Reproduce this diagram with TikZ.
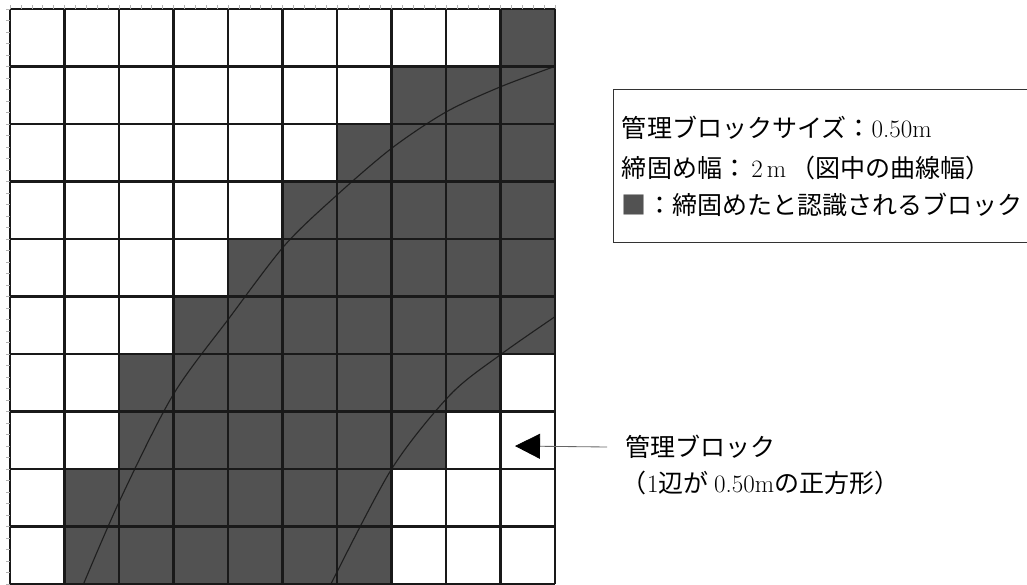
\documentclass[tikz,border=0pt]{standalone}
\usepackage{fontspec}
\newfontfamily\cjk{Noto Sans CJK JP}
\newcommand\latn[1]{{\rmfamily #1}}
\usetikzlibrary{arrows.meta}

\tikzset{
  block/.style={fill=black!68},
  gridline/.style={line width=2.1pt, draw=black!90},
  curve/.style={line width=0.8pt, draw=black!88},
  ruletick/.style={line width=0.3pt, draw=black!30},
  legendbox/.style={line width=0.6pt, draw=black!80},
  pointer/.style={line width=0.6pt, draw=black!60, -{Triangle[length=0.625cm, width=0.625cm, color=black, fill=black]}},
  label/.style={anchor=west, font=\fontsize{17.8}{20}\selectfont\cjk}
}

\begin{document}
\begin{tikzpicture}[x=0.025cm, y=-0.025cm]

\useasboundingbox (0,0) rectangle (1027,585);

% Compacted blocks (row / first column / last column)
\foreach \r/\a/\b in {0/9/9, 1/7/9, 2/6/9, 3/5/9, 4/4/9, 5/3/9, 6/2/8, 7/2/7, 8/1/6, 9/1/6}
  \foreach \c in {\a,...,\b}
    \fill[block] ({10+\c*54.5},{9+\r*57.5}) rectangle ++(54.5,57.5);

% Roller track edges
\begin{scope}
  \clip (10,9) rectangle (555,584);
  \draw[curve] plot[smooth] coordinates {(81,590) (120,500) (173,395) (230,317) (285,245) (337,195) (392,148) (446,112) (500,87) (556,66)};
  \draw[curve] plot[smooth] coordinates {(328,590) (391,470) (450,395) (500,355) (556,316)};
\end{scope}

% Grid
\foreach \i in {0,...,10} {
  \draw[gridline] ({10+\i*54.5},9) -- ({10+\i*54.5},584);
  \draw[gridline] (10,{9+\i*57.5}) -- (555,{9+\i*57.5});
}

% Ruler ticks
\foreach \k in {0,...,50} {
  \draw[ruletick] ({10+\k*10.9},5) -- ++(0,4);
  \draw[ruletick] (6,{9+\k*11.5}) -- ++(4,0);
}

% Legend
\draw[legendbox] (1030,89) -- (613,89) -- (613,242) -- (1030,242);
\node[label] (size) at (617,128) {管理ブロックサイズ：\latn{0.50m}};
\node[label] (width) at (617,168) {締固め幅：\latn{\,2\,m\,}（図中の曲線幅）};
\node[label] (mark) at (617,205) {{\color{black!68}■}：締固めたと認識されるブロック};

% Block label
\node[label, inner xsep=0.45cm] (blockname) at (607,447) {管理ブロック};
\node[label] (blocksize) at (617,483) {（\latn{1}辺が \latn{0.50m}の正方形）};
\coordinate (tip) at (515,446);
\draw[pointer] (blockname.west) -- (tip);

\end{tikzpicture}
\end{document}
